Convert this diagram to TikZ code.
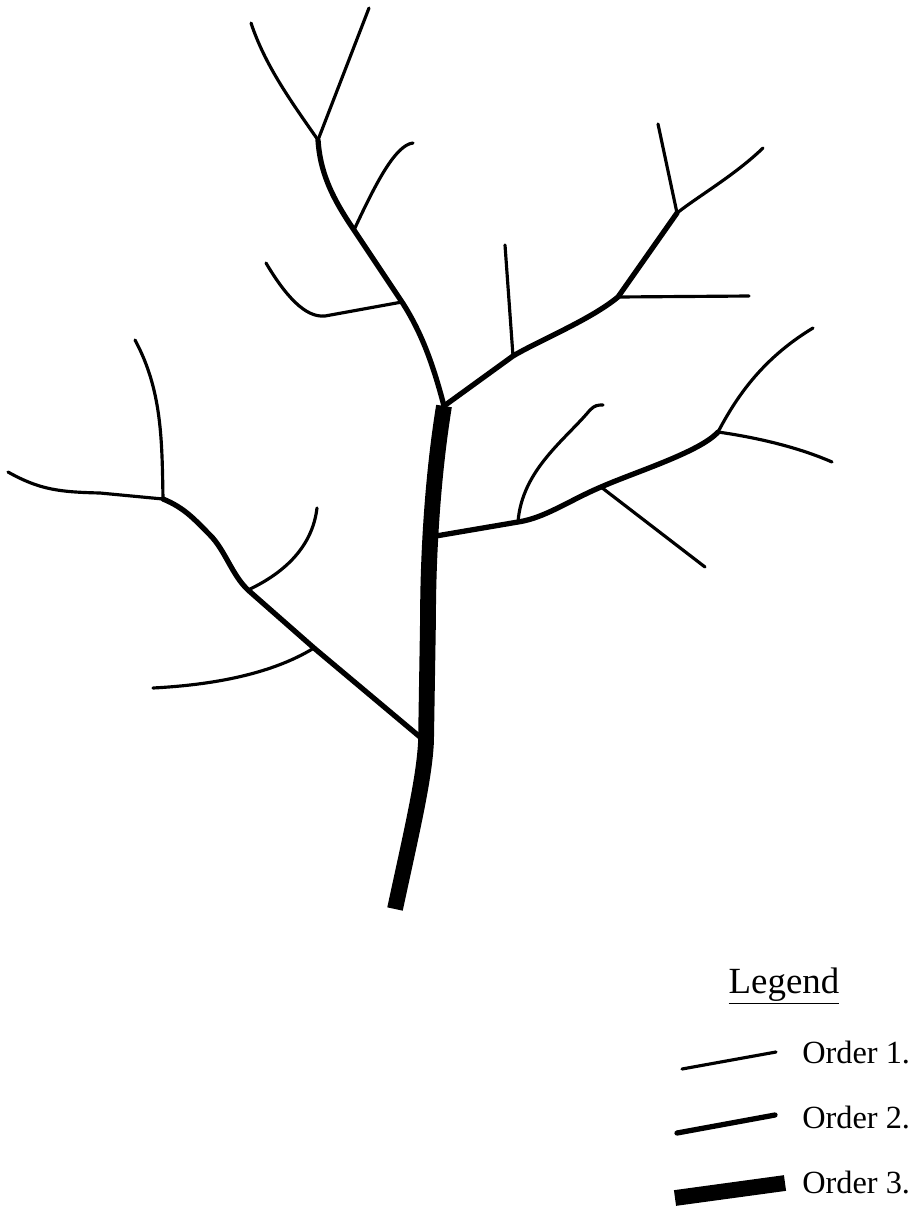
\documentclass[tikz,border=0pt]{standalone}
\usepackage{fontspec}
\setmainfont{Liberation Serif}
\usetikzlibrary{calc}

\begin{document}
\begin{tikzpicture}[x=0.02cm, y=-0.02cm,
  font=\fontsize{18.4}{22}\selectfont,
  order1/.style={line width=1.8pt, line cap=round},
  order2/.style={line width=3pt, line cap=round, line join=round},
  order3/.style={line width=9pt, line join=round}]
  \useasboundingbox (0,0) rectangle (914,1218);

  % Junctions
  \coordinate (root) at (395,909);
  \coordinate (jL) at (426,742);
  \coordinate (jR) at (430,537);
  \coordinate (jT) at (444,406);
  \coordinate (jL1) at (314,648);
  \coordinate (jL2) at (248,590);
  \coordinate (jLs) at (163,499);
  \coordinate (jU1) at (402,302);
  \coordinate (jU2) at (354,230);
  \coordinate (jUs) at (318,140);
  \coordinate (jV1) at (513,356);
  \coordinate (jV2) at (618,297);
  \coordinate (jVs) at (677,213);
  \coordinate (jW1) at (518,522);
  \coordinate (jW2) at (601,487);
  \coordinate (jWs) at (718,432);

  % Trunk (order 3)
  \draw[order3] (root) .. controls (412,830) and (424,780) .. (jL)
    -- (428,620) .. controls (428,560) and (432,480) .. (jT);

  % Left branch
  \draw[order2] (jL) -- (jL1) -- (jL2)
    .. controls (232,575) and (225,550) .. (210,535)
    .. controls (195,520) and (185,508) .. (jLs);
  \draw[order1] (jL1) .. controls (270,675) and (210,685) .. (153,688);
  \draw[order1] (jL2) .. controls (280,575) and (312,550) .. (317,508);
  \draw[order1] (jLs) .. controls (162,440) and (162,390) .. (135,340);
  \draw[order1] (jLs) -- (100,493) .. controls (60,492) and (40,490) .. (8,472);

  % Upper left branch
  \draw[order2] (jT) .. controls (432,360) and (420,330) .. (jU1) -- (jU2)
    .. controls (330,195) and (320,170) .. (jUs);
  \draw[order1] (jUs) -- (369,8);
  \draw[order1] (jUs) .. controls (290,100) and (265,65) .. (251,23);
  \draw[order1] (jU2) .. controls (375,185) and (395,145) .. (413,143);
  \draw[order1] (jU1) -- (325,316) .. controls (305,318) and (285,295) .. (266,263);

  % Upper right branch
  \draw[order2] (jT) -- (jV1) .. controls (540,340) and (590,320) .. (jV2) -- (jVs);
  \draw[order1] (jV1) -- (505,245);
  \draw[order1] (jV2) -- (749,296);
  \draw[order1] (jVs) -- (658,124);
  \draw[order1] (jVs) .. controls (700,195) and (735,175) .. (763,148);

  % Lower right branch
  \draw[order2] (jR) -- (jW1) .. controls (545,518) and (570,500) .. (jW2)
    .. controls (635,472) and (700,452) .. (jWs);
  \draw[order1] (jW1) .. controls (522,470) and (565,440) .. (590,410)
    .. controls (595,405) and (598,405) .. (603,405);
  \draw[order1] (jW2) -- (705,567);
  \draw[order1] (jWs) .. controls (735,400) and (760,360) .. (813,328);
  \draw[order1] (jWs) .. controls (760,438) and (800,448) .. (832,462);

  % Legend
  \node[anchor=base, font=\fontsize{21}{24}\selectfont] (legend) at (784,993) {\underline{Legend}};
  \node[anchor=base west, inner sep=0pt] (o1) at (802,1063) {Order 1.};
  \node[anchor=base west, inner sep=0pt] (o2) at (802,1128) {Order 2.};
  \node[anchor=base west, inner sep=0pt] (o3) at (802,1193) {Order 3.};
  \draw[order1] (682,1069) -- (776,1052);
  \draw[order2] (677,1133) -- (775,1115);
  \draw[order3] (675,1198) -- (785,1183);
\end{tikzpicture}
\end{document}
